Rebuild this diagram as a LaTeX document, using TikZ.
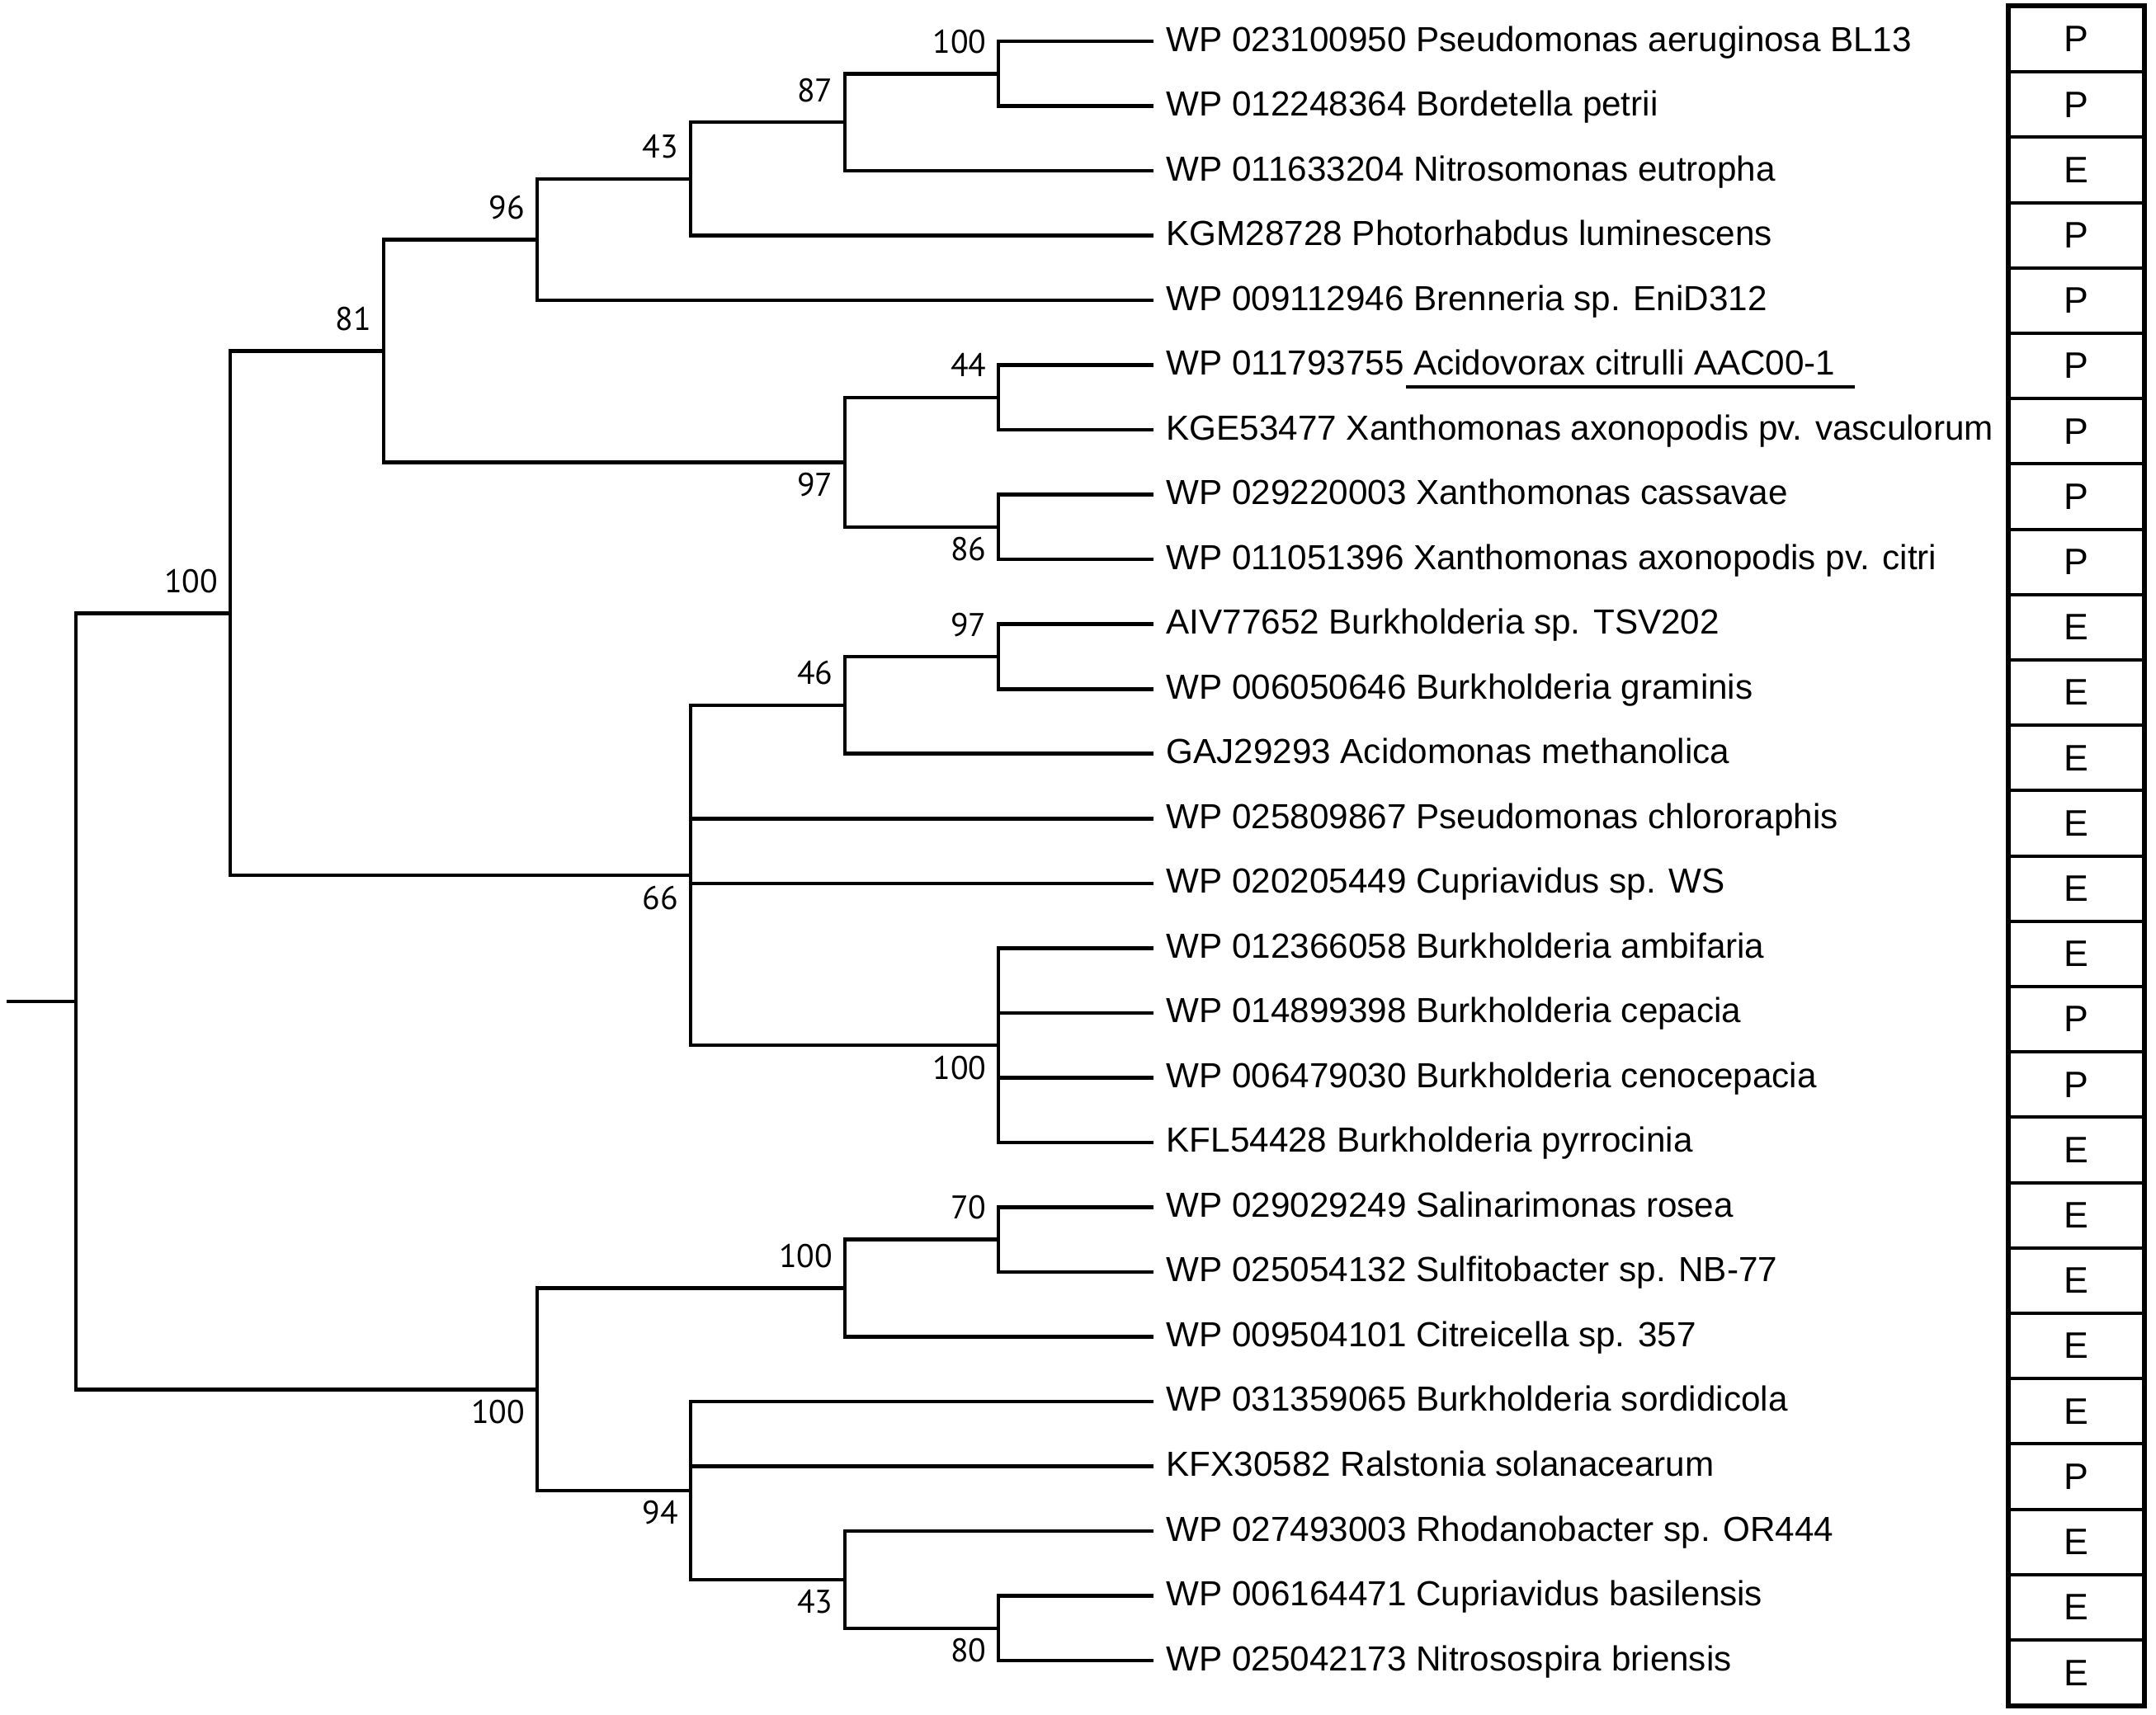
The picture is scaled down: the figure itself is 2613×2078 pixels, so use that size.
\documentclass[tikz,border=0pt]{standalone}
\usepackage{fontspec}
\usetikzlibrary{calc}
\newfontfamily\labfam{Liberation Sans}
\newfontfamily\bootfam{PT Sans}
\newcommand\labsize{\labfam\fontsize{12.0pt}{14pt}\selectfont}
\newcommand\bootsize{\bootfam\fontsize{11.3pt}{13pt}\selectfont}
\newcommand\cellsize{\labfam\fontsize{12.7pt}{14pt}\selectfont}
\begin{document}
\begin{tikzpicture}[x=0.01cm,y=-0.01cm,
  branch/.style={line width=1.3pt, line join=miter},
  boot/.style={anchor=base east, font=\bootsize, inner sep=0pt},
  taxon/.style={anchor=base west, font=\labsize, inner sep=0pt},
  cell/.style={draw, line width=1.1pt, minimum width=1.63cm, minimum height=0.792cm, inner sep=0pt, font=\cellsize},
  frame/.style={draw, line width=1.3pt},
  uline/.style={line width=1.1pt}]
\useasboundingbox (0,0) rectangle (2613,2078);

% leaves and taxon labels
\foreach \i/\t in {
 0/{WP 023100950 Pseudomonas aeruginosa BL13},
 1/{WP 012248364 Bordetella petrii},
 2/{WP 011633204 Nitrosomonas eutropha},
 3/{KGM28728 Photorhabdus luminescens},
 4/{WP 009112946 Brenneria sp. EniD312},
 5/{WP 011793755 Acidovorax citrulli AAC00-1},
 6/{KGE53477 Xanthomonas axonopodis pv. vasculorum},
 7/{WP 029220003 Xanthomonas cassavae},
 8/{WP 011051396 Xanthomonas axonopodis pv. citri},
 9/{AIV77652 Burkholderia sp. TSV202},
 10/{WP 006050646 Burkholderia graminis},
 11/{GAJ29293 Acidomonas methanolica},
 12/{WP 025809867 Pseudomonas chlororaphis},
 13/{WP 020205449 Cupriavidus sp. WS},
 14/{WP 012366058 Burkholderia ambifaria},
 15/{WP 014899398 Burkholderia cepacia},
 16/{WP 006479030 Burkholderia cenocepacia},
 17/{KFL54428 Burkholderia pyrrocinia},
 18/{WP 029029249 Salinarimonas rosea},
 19/{WP 025054132 Sulfitobacter sp. NB-77},
 20/{WP 009504101 Citreicella sp. 357},
 21/{WP 031359065 Burkholderia sordidicola},
 22/{KFX30582 Ralstonia solanacearum},
 23/{WP 027493003 Rhodanobacter sp. OR444},
 24/{WP 006164471 Cupriavidus basilensis},
 25/{WP 025042173 Nitrosospira briensis}}{
  \coordinate (l\i) at (1398,{50+78.52*\i});
  \node[taxon] (t\i) at (1413,{62+78.52*\i}) {\t};
}

% underline
\draw[uline] ($(t5.base west)+(291,14)$) -- ($(t5.base west)+(835,14)$);

% internal nodes
\coordinate (a100) at (1210,89.3);
\coordinate (a87)  at (1024,148.1);
\coordinate (a43)  at (837,216.9);
\coordinate (a96)  at (651,290.5);
\coordinate (a44)  at (1210,481.9);
\coordinate (a86)  at (1210,638.9);
\coordinate (a97)  at (1024,560.4);
\coordinate (a81)  at (465,425.5);
\coordinate (b97)  at (1210,796.0);
\coordinate (b46)  at (1024,854.8);
\coordinate (b100) at (1210,1267.1);
\coordinate (b66)  at (837,1061.0);
\coordinate (u100) at (279,743.3);
\coordinate (c70)  at (1210,1502.7);
\coordinate (c100) at (1024,1561.5);
\coordinate (c80)  at (1210,1973.8);
\coordinate (c43)  at (1024,1914.9);
\coordinate (c94)  at (837,1806.9);
\coordinate (d100) at (651,1684.2);
\coordinate (root) at (92,1213.8);
\coordinate (rstub) at (8,1213.8);

% branches
\draw[branch] (rstub) -- (root);
\draw[branch] (root) |- (u100);
\draw[branch] (root) |- (d100);
\draw[branch] (u100) |- (a81);
\draw[branch] (u100) |- (b66);
\draw[branch] (a81) |- (a96);
\draw[branch] (a81) |- (a97);
\draw[branch] (a96) |- (a43);
\draw[branch] (a96) |- (l4);
\draw[branch] (a43) |- (a87);
\draw[branch] (a43) |- (l3);
\draw[branch] (a87) |- (a100);
\draw[branch] (a87) |- (l2);
\draw[branch] (a100) |- (l0);
\draw[branch] (a100) |- (l1);
\draw[branch] (a97) |- (a44);
\draw[branch] (a97) |- (a86);
\draw[branch] (a44) |- (l5);
\draw[branch] (a44) |- (l6);
\draw[branch] (a86) |- (l7);
\draw[branch] (a86) |- (l8);
\draw[branch] (b66) |- (b46);
\draw[branch] (b66) |- (l12);
\draw[branch] (b66) |- (l13);
\draw[branch] (b66) |- (b100);
\draw[branch] (b46) |- (b97);
\draw[branch] (b46) |- (l11);
\draw[branch] (b97) |- (l9);
\draw[branch] (b97) |- (l10);
\draw[branch] (b100) |- (l14);
\draw[branch] (b100) |- (l15);
\draw[branch] (b100) |- (l16);
\draw[branch] (b100) |- (l17);
\draw[branch] (d100) |- (c100);
\draw[branch] (d100) |- (c94);
\draw[branch] (c100) |- (c70);
\draw[branch] (c100) |- (l20);
\draw[branch] (c70) |- (l18);
\draw[branch] (c70) |- (l19);
\draw[branch] (c94) |- (l21);
\draw[branch] (c94) |- (l22);
\draw[branch] (c94) |- (c43);
\draw[branch] (c43) |- (l23);
\draw[branch] (c43) |- (c80);
\draw[branch] (c80) |- (l24);
\draw[branch] (c80) |- (l25);

% bootstrap labels (above: -25, below: +40)
\node[boot] (s-a100) at ($(a100)+(-14,-25)$) {100};
\node[boot] (s-a87)  at ($(a87)+(-14,-25)$) {87};
\node[boot] (s-a43)  at ($(a43)+(-14,-25)$) {43};
\node[boot] (s-a96)  at ($(a96)+(-14,-25)$) {96};
\node[boot] (s-a81)  at ($(a81)+(-14,-25)$) {81};
\node[boot] (s-u100) at ($(u100)+(-14,-25)$) {100};
\node[boot] (s-a44)  at ($(a44)+(-14,-25)$) {44};
\node[boot] (s-a97)  at ($(a97)+(-14,41)$) {97};
\node[boot] (s-a86)  at ($(a86)+(-14,41)$) {86};
\node[boot] (s-b97)  at ($(b97)+(-14,-25)$) {97};
\node[boot] (s-b46)  at ($(b46)+(-14,-25)$) {46};
\node[boot] (s-b66)  at ($(b66)+(-14,41)$) {66};
\node[boot] (s-b100) at ($(b100)+(-14,41)$) {100};
\node[boot] (s-c70)  at ($(c70)+(-14,-25)$) {70};
\node[boot] (s-c100) at ($(c100)+(-14,-25)$) {100};
\node[boot] (s-d100) at ($(d100)+(-14,41)$) {100};
\node[boot] (s-c94)  at ($(c94)+(-14,41)$) {94};
\node[boot] (s-c43)  at ($(c43)+(-14,41)$) {43};
\node[boot] (s-c80)  at ($(c80)+(-14,41)$) {80};

% P/E column
\foreach \i/\c in {0/P,1/P,2/E,3/P,4/P,5/P,6/P,7/P,8/P,9/E,10/E,11/E,12/E,13/E,14/E,15/P,16/P,17/E,18/E,19/E,20/E,21/E,22/P,23/E,24/E,25/E}{
  \node[cell] (k\i) at (2516.5,{47.6+79.2*\i}) {\c};
}
\draw[frame] (k0.north west) rectangle (k25.south east);
\end{tikzpicture}
\end{document}
